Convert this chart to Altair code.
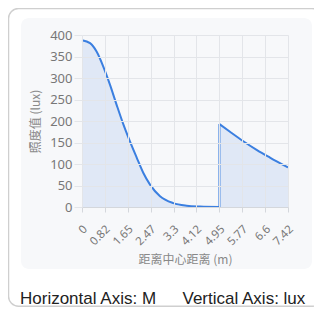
import altair as alt
import pandas as pd

# --- data ---
seg1_x = [0, 0.29, 0.53, 0.77, 1.01, 1.25, 1.49, 1.73, 1.97, 2.21, 2.45, 2.81, 3.29, 3.77, 4.25, 4.95]
seg1_y = [388, 381, 361, 326, 284, 237, 192, 152, 115, 79, 52, 25, 9, 3, 1, 0]
seg2_x = [4.95, 5.33, 5.81, 6.29, 6.77, 7.42]
seg2_y = [193, 175, 153, 133, 115, 92]
x_ticks = [0, 0.82, 1.65, 2.47, 3.3, 4.12, 4.95, 5.77, 6.6, 7.42]
y_ticks = [0, 50, 100, 150, 200, 250, 300, 350, 400]
x_title = "距离中心距离 (m)"
y_title = "照度值 (lux)"
caption_left = "Horizontal Axis: M"
caption_right = "Vertical Axis: lux"

BLUE = "#3b7fe0"

df = pd.DataFrame(
    {"d": seg1_x + seg2_x, "lux": seg1_y + seg2_y,
     "seg": ["a"] * len(seg1_x) + ["b"] * len(seg2_x)}
)
jump = pd.DataFrame({"d": [seg2_x[0]], "lo": [0], "hi": [seg2_y[0]]})

xs = alt.Scale(domain=[0, 7.42], nice=False, zero=False)
ys = alt.Scale(domain=[0, 400], nice=False)

x_axis = alt.Axis(
    values=x_ticks, format=".2~f", labelAngle=315, labelAlign="right",
    labelBaseline="top", labelPadding=11, labelOffset=-1, labelOverlap=False,
    labelFontSize=11.5, labelColor="#777", labelBound=False, labelFlush=False,
    labelFont="Noto Sans", tickSize=5, tickColor="#d4d7dc", domainColor="#d4d7dc",
    gridColor="#e3e5e9", title=x_title, titleFont="Noto Sans CJK SC",
    titleFontSize=12, titleFontWeight="normal", titleColor="#888",
    titleY=52, titleBaseline="middle", zindex=1,
)
y_axis = alt.Axis(
    values=y_ticks, labelFontSize=13, labelColor="#777", labelFont="Noto Sans",
    labelOverlap=False, labelFlush=False, labelBound=False,
    labelPadding=2, tickSize=8, tickColor="#e3e5e9", domain=False,
    gridColor="#e3e5e9", title=y_title, titleFont="Noto Sans CJK SC",
    titleFontSize=12, titleFontWeight="normal", titleColor="#8a8a8a",
    titleX=-47, titleBaseline="middle", zindex=1,
)

card = alt.Chart(pd.DataFrame({"k": [0]})).mark_rect(
    fill="white", stroke="#cfcfcf", strokeWidth=1.5, cornerRadius=10
).encode(x=alt.value(-73.5), x2=alt.value(240), y=alt.value(-26.5), y2=alt.value(271.2))

panel = alt.Chart(pd.DataFrame({"k": [0]})).mark_rect(
    fill="#f7f8fa", cornerRadius=8
).encode(x=alt.value(-61), x2=alt.value(230), y=alt.value(-17), y2=alt.value(234))

cap1 = alt.Chart(pd.DataFrame({"t": [caption_left]})).mark_text(
    align="left", baseline="alphabetic", font="Liberation Sans", fontSize=17, color="#222"
).encode(text="t:N", x=alt.value(-62), y=alt.value(268.5))
cap2 = alt.Chart(pd.DataFrame({"t": [caption_right]})).mark_text(
    align="left", baseline="alphabetic", font="Liberation Sans", fontSize=17, color="#222"
).encode(text="t:N", x=alt.value(100.5), y=alt.value(268.5))

base = alt.Chart(df)
area = base.mark_area(interpolate="monotone", color=BLUE, opacity=0.12).encode(
    x=alt.X("d:Q", scale=xs, axis=x_axis),
    y=alt.Y("lux:Q", scale=ys, axis=y_axis, stack=None),
    detail="seg:N",
)
line = base.mark_line(interpolate="monotone", color=BLUE, strokeWidth=2).encode(
    x=alt.X("d:Q", scale=xs, axis=x_axis),
    y=alt.Y("lux:Q", scale=ys, axis=y_axis),
    detail="seg:N",
)
rule = alt.Chart(jump).mark_rule(color=BLUE, strokeWidth=2).encode(
    x=alt.X("d:Q", scale=xs, axis=x_axis),
    y=alt.Y("lo:Q", scale=ys, axis=y_axis),
    y2="hi:Q",
)

chart = alt.layer(card, panel, area, line, rule, cap1, cap2).properties(
    width=206, height=172,
    autosize=alt.AutoSizeParams(type="none"),
    padding={"left": 74, "top": 27, "right": 26, "bottom": 100},
).configure_view(stroke=None, fill="#f7f8fa").configure(background="white")

chart.save("out.html", embed_options={"renderer": "svg", "actions": False})
